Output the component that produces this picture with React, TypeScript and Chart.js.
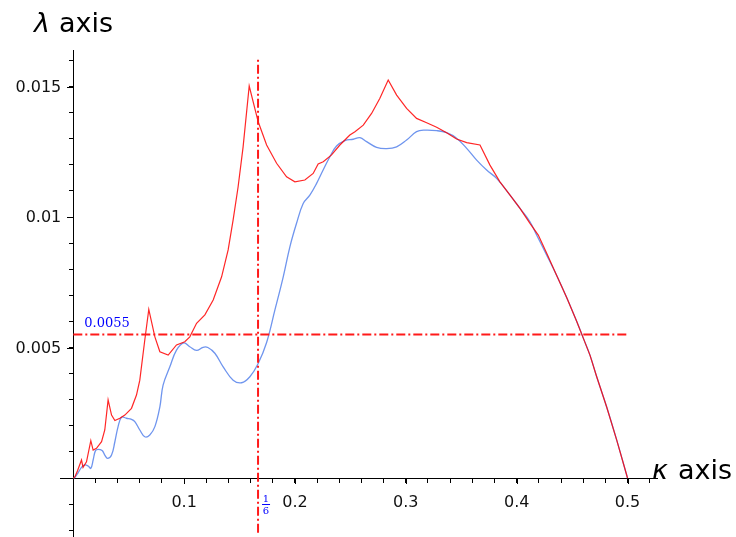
import React, { useEffect, useRef } from "react";
import { Chart, registerables } from "chart.js";

Chart.register(...registerables);

// Red curve (kappa, lambda)
const redKappa = [0, 0.0014, 0.0038, 0.0074, 0.0088, 0.0119, 0.0158, 0.0179, 0.0209, 0.0255, 0.0284, 0.0314, 0.0345, 0.0375, 0.042, 0.0465, 0.0525, 0.057, 0.06, 0.0645, 0.0681, 0.0736, 0.0781, 0.0856, 0.0931, 0.1006, 0.1051, 0.1112, 0.1187, 0.1262, 0.1338, 0.1397, 0.1442, 0.1487, 0.1532, 0.1587, 0.1668, 0.1744, 0.1834, 0.1924, 0.1999, 0.2089, 0.2164, 0.2209, 0.2255, 0.233, 0.2405, 0.2495, 0.2541, 0.2616, 0.2691, 0.2766, 0.2841, 0.2917, 0.3007, 0.3097, 0.3188, 0.3278, 0.3368, 0.3458, 0.3549, 0.3669, 0.3759, 0.3849, 0.394, 0.403, 0.412, 0.4195, 0.4271, 0.4361, 0.4451, 0.4542, 0.4601, 0.4662, 0.4722, 0.4812, 0.4902, 0.5];
const redLambda = [0, 0.00004, 0.00028, 0.00069, 0.00041, 0.00062, 0.00143, 0.00107, 0.00114, 0.00139, 0.00184, 0.00299, 0.00241, 0.0022, 0.00229, 0.00241, 0.00267, 0.00318, 0.00375, 0.00529, 0.00646, 0.00541, 0.00484, 0.00471, 0.0051, 0.00522, 0.00541, 0.00593, 0.00625, 0.00682, 0.00771, 0.00874, 0.00989, 0.01116, 0.01269, 0.01502, 0.01365, 0.01276, 0.01206, 0.01154, 0.01135, 0.01142, 0.01167, 0.01203, 0.01212, 0.01238, 0.01276, 0.01314, 0.01327, 0.01352, 0.01397, 0.01455, 0.01525, 0.01467, 0.01416, 0.01378, 0.01361, 0.01344, 0.01323, 0.01299, 0.01285, 0.01276, 0.01199, 0.01135, 0.01084, 0.01033, 0.00976, 0.00931, 0.00861, 0.00776, 0.00692, 0.006, 0.00536, 0.0047, 0.00388, 0.00272, 0.00146, 0];

// Blue curve (kappa, lambda)
const blueKappa = [0, 0.0014, 0.0043, 0.0074, 0.0104, 0.0134, 0.0158, 0.0179, 0.02, 0.0224, 0.026, 0.0284, 0.0309, 0.0345, 0.0375, 0.0404, 0.0435, 0.048, 0.0525, 0.0555, 0.06, 0.0645, 0.069, 0.0736, 0.0781, 0.081, 0.0871, 0.0931, 0.0997, 0.1051, 0.1112, 0.1171, 0.1214, 0.1277, 0.1352, 0.1442, 0.1518, 0.1593, 0.1668, 0.1744, 0.1819, 0.1894, 0.1954, 0.2014, 0.2074, 0.2134, 0.2195, 0.2254, 0.2315, 0.2375, 0.245, 0.2525, 0.2586, 0.2646, 0.2736, 0.2827, 0.2917, 0.3007, 0.3097, 0.3172, 0.3278, 0.3368, 0.3458, 0.3549, 0.3639, 0.3729, 0.3819, 0.394, 0.403, 0.412, 0.418, 0.4271, 0.4361, 0.4451, 0.4542, 0.4601, 0.4662, 0.4722, 0.4812, 0.4902, 0.5];
const blueLambda = [0, 0.00003, 0.0002, 0.00041, 0.0005, 0.00046, 0.00037, 0.00069, 0.00105, 0.0011, 0.00105, 0.00088, 0.00075, 0.00088, 0.00139, 0.00197, 0.00233, 0.00229, 0.00225, 0.00216, 0.00184, 0.00158, 0.00165, 0.00197, 0.00273, 0.00356, 0.00426, 0.0049, 0.00518, 0.00503, 0.00489, 0.00501, 0.005, 0.00478, 0.00426, 0.00375, 0.00365, 0.00388, 0.00439, 0.00519, 0.00644, 0.00771, 0.00886, 0.00976, 0.01052, 0.01084, 0.01129, 0.0118, 0.01231, 0.01272, 0.01293, 0.01298, 0.01304, 0.01289, 0.01267, 0.01262, 0.01269, 0.01295, 0.01327, 0.01333, 0.01331, 0.01323, 0.01302, 0.01263, 0.01218, 0.0118, 0.01148, 0.01084, 0.01033, 0.00982, 0.00931, 0.00854, 0.00776, 0.00692, 0.006, 0.00536, 0.0047, 0.00388, 0.00272, 0.00146, 0];

// Reference lines
const refKappa = 1 / 6;
const refKappaSpan = [-0.0021, 0.01605];
const refLambda = 0.0055;
const refLambdaSpan = [0, 0.5];
const refLambdaLabel = "0.0055";
const refKappaNum = "1";
const refKappaDen = "6";

// Ticks
const xMajorValues = [0.1, 0.2, 0.3, 0.4, 0.5];
const xTickLabels = ["0.1", "0.2", "0.3", "0.4", "0.5"];
const yMajorValues = [0.005, 0.01, 0.015];
const yTickLabels = ["0.005", "0.01", "0.015"];
const xAxisTitle = "axis";
const xAxisSymbol = "κ";
const yAxisTitle = "axis";
const yAxisSymbol = "λ";

const overlayPlugin = {
  id: "overlay",
  afterDraw(chart: any) {
    const ctx = chart.ctx;
    const xs = chart.scales.x;
    const ys = chart.scales.y;
    const x0 = xs.getPixelForValue(0);
    const y0 = ys.getPixelForValue(0);
    ctx.save();
    // longer major ticks
    ctx.strokeStyle = "#000";
    ctx.lineWidth = 1;
    ctx.beginPath();
    xMajorValues.forEach((v) => {
      const px = Math.round(xs.getPixelForValue(v)) + 0.5;
      ctx.moveTo(px, Math.round(y0));
      ctx.lineTo(px, Math.round(y0) + 6);
    });
    yMajorValues.forEach((v) => {
      const py = Math.round(ys.getPixelForValue(v)) + 0.5;
      ctx.moveTo(Math.round(x0) - 6, py);
      ctx.lineTo(Math.round(x0), py);
    });
    ctx.stroke();

    // y tick labels
    ctx.fillStyle = "#111";
    ctx.font = '16px "DejaVu Sans"';
    ctx.textAlign = "right";
    ctx.textBaseline = "middle";
    yMajorValues.forEach((v, i) => {
      ctx.fillText(yTickLabels[i], x0 - 12, ys.getPixelForValue(v) + 1);
    });

    // axis titles
    ctx.textAlign = "left";
    ctx.textBaseline = "alphabetic";
    ctx.fillStyle = "#000";
    ctx.font = 'italic 27px "DejaVu Sans"';
    ctx.fillText(yAxisSymbol, 34, 32);
    ctx.font = '27px "DejaVu Sans"';
    ctx.fillText(yAxisTitle, 59, 32);
    ctx.font = 'italic 27px "DejaVu Sans"';
    ctx.fillText(xAxisSymbol, 652, 479);
    ctx.font = '27px "DejaVu Sans"';
    ctx.fillText(xAxisTitle, 678, 479);

    // reference labels
    ctx.fillStyle = "#0000ff";
    ctx.font = '13px "DejaVu Serif"';
    ctx.fillText(refLambdaLabel, x0 + 11, ys.getPixelForValue(refLambda) - 7);

    const cx = xs.getPixelForValue(refKappa) + 8;
    ctx.font = '10px "DejaVu Serif"';
    ctx.textAlign = "center";
    ctx.fillText(refKappaNum, cx, y0 + 24);
    ctx.fillRect(cx - 4, y0 + 26, 8, 1);
    ctx.fillText(refKappaDen, cx, y0 + 36);
    ctx.restore();
  },
};

export default function App() {
  const canvasRef = useRef<HTMLCanvasElement | null>(null);

  useEffect(() => {
    const canvas = canvasRef.current;
    if (!canvas) return;
    const red = redKappa.map((x, i) => ({ x, y: redLambda[i] }));
    const blue = blueKappa.map((x, i) => ({ x, y: blueLambda[i] }));
    const vLine = refKappaSpan.map((y) => ({ x: refKappa, y }));
    const hLine = refLambdaSpan.map((x) => ({ x, y: refLambda }));

    const chart = new Chart(canvas, {
      type: "line",
      data: {
        datasets: [
          {
            data: vLine,
            borderColor: "#ff1a1a",
            borderWidth: 2,
            borderDash: [9, 3, 2, 3],
            pointRadius: 0,
            tension: 0,
          },
          {
            data: hLine,
            borderColor: "#ff1a1a",
            borderWidth: 2,
            borderDash: [9, 3, 2, 3],
            pointRadius: 0,
            tension: 0,
          },
          {
            data: red,
            borderColor: "rgba(255,0,0,0.85)",
            borderWidth: 1.2,
            pointRadius: 0,
            tension: 0,
          },
          {
            data: blue,
            borderColor: "#6f95ee",
            borderWidth: 1.3,
            pointRadius: 0,
            tension: 0.4,
          },
        ],
      },
      options: {
        animation: false,
        responsive: false,
        devicePixelRatio: 1,
        layout: { padding: { left: 60, right: 79, top: 50, bottom: 0 } },
        plugins: {
          legend: { display: false },
          tooltip: { enabled: false },
          title: { display: false },
        },
        scales: {
          x: {
            type: "linear",
            position: { y: 0 } as any,
            min: -0.012,
            max: 0.5266,
            border: { display: true, color: "#000", width: 1 },
            grid: {
              drawOnChartArea: false,
              drawTicks: true,
              tickLength: 4,
              tickColor: "#000",
            },
            ticks: {
              stepSize: 0.02,
              includeBounds: false,
              autoSkip: false,
              maxTicksLimit: 100,
              maxRotation: 0,
              minRotation: 0,
              padding: 11,
              color: "#111",
              font: { family: "DejaVu Sans", size: 16 },
              callback: (v: any) => {
                const i = xMajorValues.findIndex((m) => Math.abs(m - v) < 1e-6);
                return i >= 0 ? xTickLabels[i] : "";
              },
            },
          },
          y: {
            type: "linear",
            position: { x: 0 } as any,
            min: -0.00226,
            max: 0.0164,
            border: { display: true, color: "#000", width: 1 },
            grid: {
              drawOnChartArea: false,
              drawTicks: true,
              tickLength: 4,
              tickColor: "#000",
            },
            ticks: {
              display: false,
              stepSize: 0.001,
              includeBounds: false,
              autoSkip: false,
              maxTicksLimit: 100,
            },
          },
        },
      },
      plugins: [overlayPlugin],
    });
    return () => chart.destroy();
  }, []);

  return (
    <div style={{ position: "absolute", left: 0, top: 0, width: 736, height: 537, background: "#fff" }}>
      <canvas ref={canvasRef} width={736} height={537} style={{ width: 736, height: 537 }} />
    </div>
  );
}
